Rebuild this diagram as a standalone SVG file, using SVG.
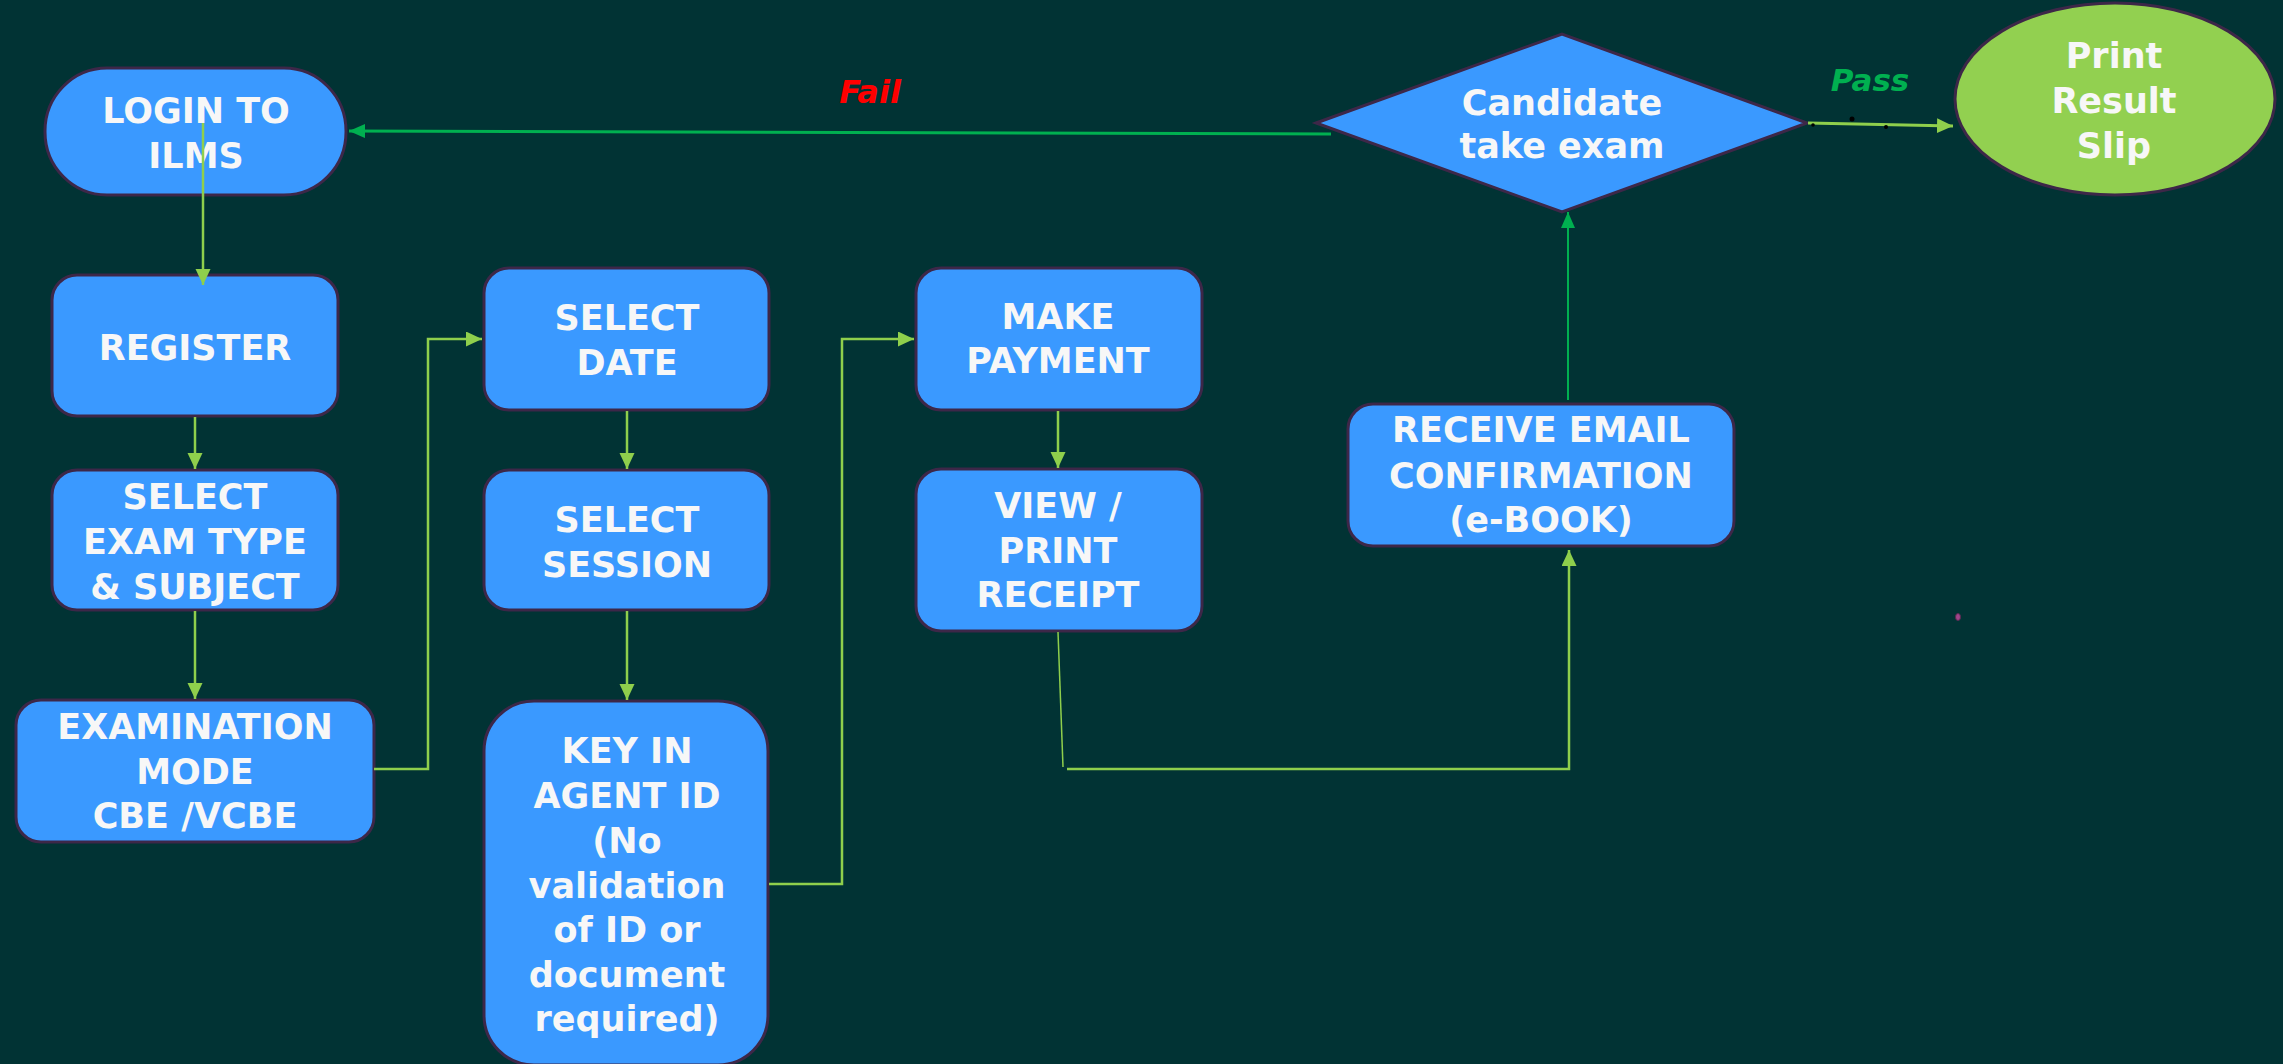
<svg xmlns="http://www.w3.org/2000/svg" width="2283" height="1064" viewBox="0 0 2283 1064">
<defs>
<style>
.bg{fill:#013334}
.box{fill:#3A99FF;stroke:#3D2748;stroke-width:3}
.oval{fill:#92D050;stroke:#3D2748;stroke-width:3}
.t{font-family:"DejaVu Sans","Liberation Sans",sans-serif;font-weight:bold;font-size:35px;fill:#F7F7F7;text-anchor:middle}
.lg{fill:none;stroke:#8FCF4C;stroke-width:2.5}
.dg{fill:none;stroke:#00B050;stroke-width:2.5}
.lbl{font-family:"DejaVu Sans","Liberation Sans",sans-serif;font-weight:bold;font-style:italic;text-anchor:middle}
</style>
<marker id="al" markerUnits="userSpaceOnUse" markerWidth="17" markerHeight="16" refX="16" refY="7.5" orient="auto">
<path d="M0,0 L16,7.5 L0,15 z" fill="#8FCF4C"/>
</marker>
<marker id="ad" markerUnits="userSpaceOnUse" markerWidth="17" markerHeight="16" refX="16" refY="7" orient="auto">
<path d="M0,0 L16,7 L0,14 z" fill="#00B050"/>
</marker>
</defs>
<rect class="bg" x="0" y="0" width="2283" height="1064"/>

<g id="login">
<rect class="box" x="45" y="68" width="301" height="127" rx="62" ry="63"/>
<text class="t" x="196" y="123">LOGIN TO</text>
<text class="t" x="196" y="168">ILMS</text>
</g>
<g id="register">
<rect class="box" x="52" y="275" width="286" height="141" rx="25"/>
<text class="t" x="195" y="360">REGISTER</text>
</g>
<g id="select-exam">
<rect class="box" x="52" y="470" width="286" height="140" rx="25"/>
<text class="t" x="195" y="509">SELECT</text>
<text class="t" x="195" y="554">EXAM TYPE</text>
<text class="t" x="195" y="599">&amp; SUBJECT</text>
</g>
<g id="exam-mode">
<rect class="box" x="16" y="700" width="358" height="142" rx="25"/>
<text class="t" x="195" y="739">EXAMINATION</text>
<text class="t" x="195" y="784">MODE</text>
<text class="t" x="195" y="828">CBE /VCBE</text>
</g>
<g id="select-date">
<rect class="box" x="484" y="268" width="285" height="142" rx="25"/>
<text class="t" x="627" y="330">SELECT</text>
<text class="t" x="627" y="375">DATE</text>
</g>
<g id="select-session">
<rect class="box" x="484" y="470" width="285" height="140" rx="25"/>
<text class="t" x="627" y="532">SELECT</text>
<text class="t" x="627" y="577">SESSION</text>
</g>
<g id="agent-id">
<rect class="box" x="484" y="701" width="284" height="364" rx="50"/>
<text class="t" x="627" y="763">KEY IN</text>
<text class="t" x="627" y="808">AGENT ID</text>
<text class="t" x="627" y="853">(No</text>
<text class="t" x="627" y="898">validation</text>
<text class="t" x="627" y="942">of ID or</text>
<text class="t" x="627" y="987">document</text>
<text class="t" x="627" y="1031">required)</text>
</g>
<g id="make-payment">
<rect class="box" x="916" y="268" width="286" height="142" rx="25"/>
<text class="t" x="1058" y="329">MAKE</text>
<text class="t" x="1058" y="373">PAYMENT</text>
</g>
<g id="view-receipt">
<rect class="box" x="916" y="469" width="286" height="162" rx="25"/>
<text class="t" x="1058" y="518">VIEW /</text>
<text class="t" x="1058" y="563">PRINT</text>
<text class="t" x="1058" y="607">RECEIPT</text>
</g>
<g id="receive-email">
<rect class="box" x="1348" y="404" width="386" height="142" rx="25"/>
<text class="t" x="1541" y="442">RECEIVE EMAIL</text>
<text class="t" x="1541" y="488">CONFIRMATION</text>
<text class="t" x="1541" y="532">(e-BOOK)</text>
</g>
<g id="take-exam">
<polygon class="box" points="1316,123 1562,34 1807,123 1562,212"/>
<text class="t" x="1562" y="115">Candidate</text>
<text class="t" x="1562" y="158">take exam</text>
</g>
<g id="print-slip">
<ellipse class="oval" cx="2115" cy="99" rx="160" ry="96"/>
<text class="t" x="2114" y="68">Print</text>
<text class="t" x="2114" y="113">Result</text>
<text class="t" x="2114" y="158">Slip</text>
</g>

<g id="connectors">
<path class="lg" d="M203,123 L203,285" marker-end="url(#al)"/>
<path class="lg" d="M195,417 L195,469" marker-end="url(#al)"/>
<path class="lg" d="M195,611 L195,699" marker-end="url(#al)"/>
<path class="lg" d="M374,769 L428,769 L428,339 L482,339" marker-end="url(#al)"/>
<path class="lg" d="M627,411 L627,469" marker-end="url(#al)"/>
<path class="lg" d="M627,611 L627,700" marker-end="url(#al)"/>
<path class="lg" d="M769,884 L842,884 L842,339 L914,339" marker-end="url(#al)"/>
<path class="lg" d="M1058,411 L1058,468" marker-end="url(#al)"/>
<path class="lg" d="M1058,632 L1063,767" style="stroke-width:1.5"/>
<path class="lg" d="M1067,769 L1569,769 L1569,550" marker-end="url(#al)"/>
<path class="dg" d="M1568,400 L1568,212" style="stroke-width:2" marker-end="url(#ad)"/>
<path class="dg" d="M1331,134 L349,131" style="stroke-width:3" marker-end="url(#ad)"/>
<path class="lg" d="M1808,123 L1953,126" style="stroke-width:3" marker-end="url(#al)"/>
</g>

<g id="labels">
<text class="lbl" x="870" y="103" font-size="32" fill="#FF0000">Fail</text>
<text class="lbl" x="1870" y="91" font-size="31" fill="#00B050">Pass</text>
</g>
<g id="marks">
<circle cx="1852" cy="119" r="2.5" fill="#000"/>
<circle cx="1886" cy="127" r="2" fill="#000"/>
<circle cx="1813" cy="125" r="1.8" fill="#000"/>
<ellipse cx="1958" cy="617" rx="2.5" ry="3.5" fill="#A0458A" stroke="#5A2A50" stroke-width="1"/>
</g>
</svg>
